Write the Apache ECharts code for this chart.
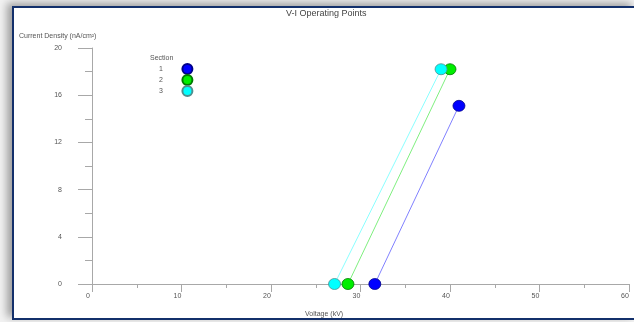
<!DOCTYPE html>
<html>
<head>
<meta charset="utf-8">
<script src="https://cdn.jsdelivr.net/npm/echarts@6/dist/echarts.min.js"></script>
<style>
  html, body { margin: 0; padding: 0; width: 634px; height: 322px; overflow: hidden; background: #f2f2f2; }
  #frame {
    position: absolute; left: 12px; top: 6px; width: 620px; height: 310px;
    border: 2px solid #13306b; background: #ffffff;
    box-shadow: -5px -3px 8px rgba(0,0,0,0.35);
  }
  #chart { position: absolute; left: 0; top: 0; width: 634px; height: 322px; }
</style>
</head>
<body>
<div id="frame"></div>
<div id="chart"></div>
<script>
// Operating points per section: [voltage kV, current density nA/cm²]
const sectionNames = ['1', '2', '3'];
const section1 = [[31.6, 0], [41.0, 15.1]];
const section2 = [[28.6, 0], [40.0, 18.2]];
const section3 = [[27.1, 0], [39.0, 18.2]];
const xTicks = { min: 0, max: 60, interval: 10 };
const yTicks = { min: 0, max: 20, interval: 4 };

const fills = ['#0000ff', '#00ee00', '#00ffff'];
const borders = ['#00008a', '#007a00', '#4f8f8f'];
const lineColors = ['#8080ff', '#7fef7f', '#8affff'];

const axisGray = '#a8a8a8';
const textGray = '#555555';
const font = 'Liberation Sans, Arial, sans-serif';

function makeSeries(name, data, i) {
  return {
    name: name,
    type: 'line',
    data: data,
    clip: false,
    symbol: 'circle',
    symbolSize: [12, 11],
    itemStyle: { color: fills[i], borderColor: borders[i], borderWidth: 0.8 },
    lineStyle: { color: lineColors[i], width: 1 },
    emphasis: { disabled: true },
    animation: false
  };
}

function label(text, left, top, size, color) {
  return {
    text: text, left: left, top: top, padding: 0,
    textStyle: { fontFamily: font, fontSize: size, fontWeight: 'normal', color: color }
  };
}

const chart = echarts.init(document.getElementById('chart'));
chart.setOption({
  backgroundColor: 'transparent',
  animation: false,
  title: [
    label('V-I Operating Points', 286, 9, 9, '#444'),
    label('Current Density (nA/cm²)', 19, 33, 7, textGray),
    label('Section', 150, 55, 7, textGray),
    label('Voltage (kV)', 305, 311, 7, textGray)
  ],
  legend: {
    orient: 'vertical',
    left: 159, top: 63,
    padding: 0,
    align: 'right',
    itemWidth: 11, itemHeight: 10, itemGap: -1,
    icon: 'circle',
    selectedMode: false,
    data: sectionNames,
    textStyle: { fontFamily: font, fontSize: 7, color: textGray, padding: [0, 14, 0, 0], lineHeight: 8 }
  },
  grid: { left: 92, right: 5, top: 48, bottom: 38, containLabel: false },
  xAxis: {
    type: 'value',
    min: xTicks.min, max: xTicks.max, interval: xTicks.interval,
    axisLine: { show: true, onZero: false, lineStyle: { color: axisGray, width: 1 } },
    axisTick: { show: true, length: 8, lineStyle: { color: axisGray } },
    minorTick: { show: true, splitNumber: 2, length: 4, lineStyle: { color: axisGray } },
    splitLine: { show: false },
    axisLabel: { fontFamily: font, fontSize: 7, color: textGray, margin: 9, padding: [0, 8, 0, 0] }
  },
  yAxis: {
    type: 'value',
    min: yTicks.min, max: yTicks.max, interval: yTicks.interval,
    axisLine: { show: true, lineStyle: { color: axisGray, width: 1 } },
    axisTick: { show: true, length: 14, lineStyle: { color: axisGray } },
    minorTick: { show: true, splitNumber: 2, length: 7, lineStyle: { color: axisGray } },
    splitLine: { show: false },
    axisLabel: { fontFamily: font, fontSize: 7, color: textGray, margin: 30 }
  },
  series: [
    makeSeries(sectionNames[0], section1, 0),
    makeSeries(sectionNames[1], section2, 1),
    makeSeries(sectionNames[2], section3, 2)
  ]
});
</script>
</body>
</html>
